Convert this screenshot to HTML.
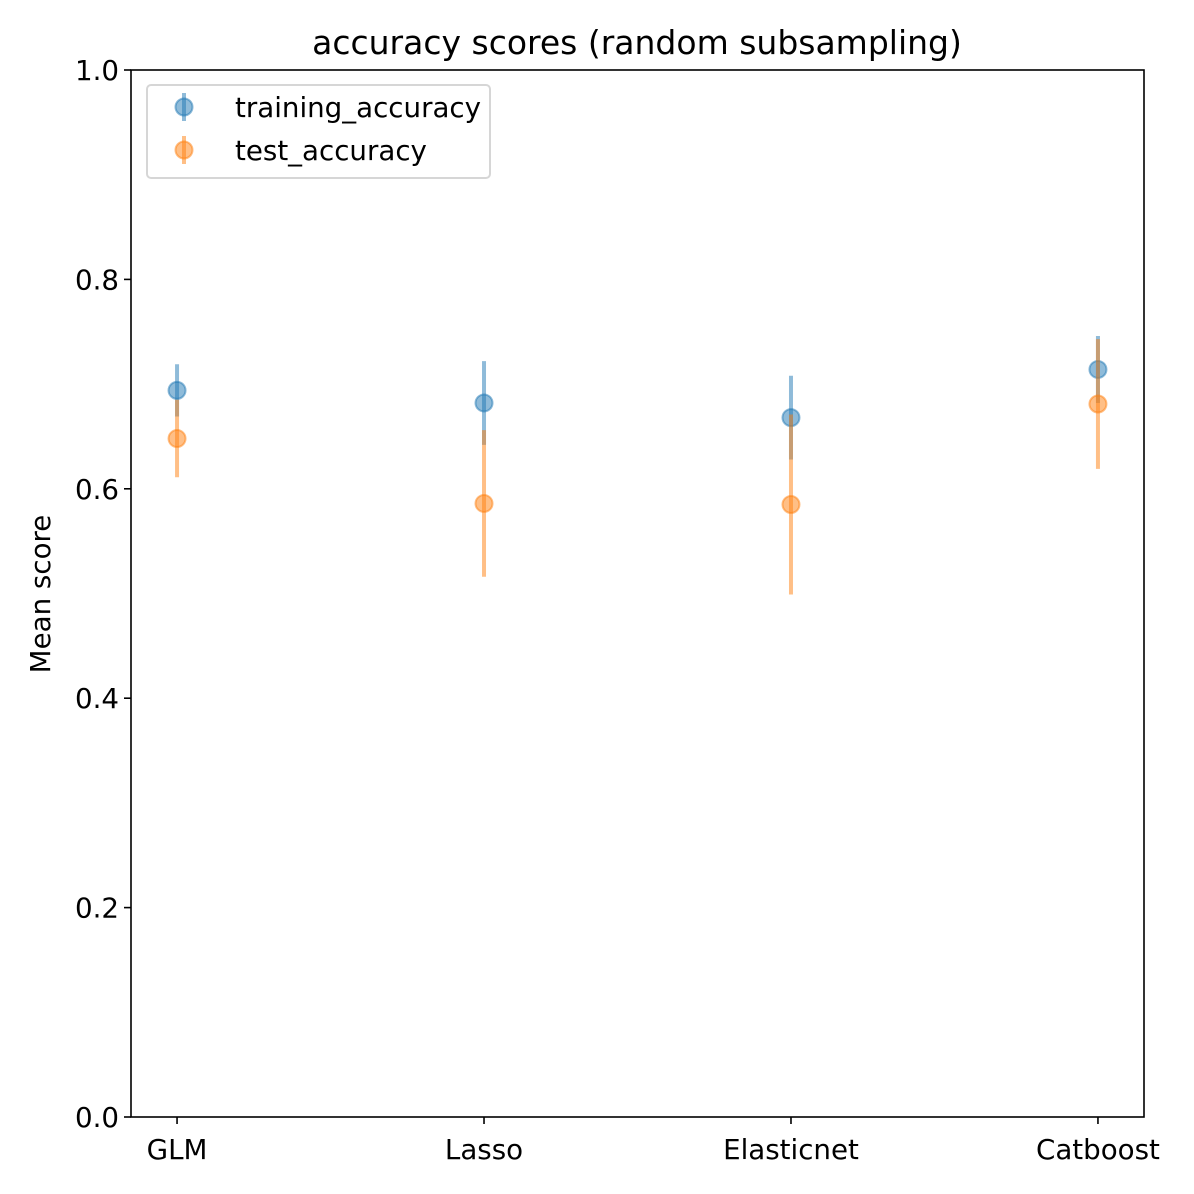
<!DOCTYPE html>
<html><head><meta charset="utf-8"><style>
html,body{margin:0;padding:0;background:#fff;}
svg{display:block;font-family:"DejaVu Sans","Liberation Sans",sans-serif;}
</style></head><body>
<svg id="chart" width="1194" height="1194" viewBox="0 0 1194 1194">
<rect x="0" y="0" width="1194" height="1194" fill="#fff"/>
<text x="637" y="54" font-size="33" text-anchor="middle">accuracy scores (random subsampling)</text>
<text transform="translate(50,594) rotate(-90)" font-size="27.7" text-anchor="middle">Mean score</text>
<g id="marks"></g>
<g id="axes"></g>
<g id="legend">
<rect x="147" y="85" width="343" height="93" rx="4" fill="#fff" fill-opacity="0.8" stroke="#d6d6d6" stroke-width="2"/>
<g>
<line x1="184" y1="93" x2="184" y2="121" stroke="#1f77b4" stroke-opacity="0.5" stroke-width="4"/>
<circle cx="184" cy="107" r="8.5" fill="#1f77b4" fill-opacity="0.5" stroke="#1f77b4" stroke-opacity="0.5" stroke-width="2"/>
<text x="235" y="117" font-size="27.7">training_accuracy</text></g>
<g>
<line x1="184" y1="136" x2="184" y2="164" stroke="#ff7f0e" stroke-opacity="0.5" stroke-width="4"/>
<circle cx="184" cy="150" r="8.5" fill="#ff7f0e" fill-opacity="0.5" stroke="#ff7f0e" stroke-opacity="0.5" stroke-width="2"/>
<text x="235" y="160" font-size="27.7">test_accuracy</text></g>
</g>
</svg>
<script>
const categories = ["GLM","Lasso","Elasticnet","Catboost"];
const trainMean = [0.694,0.682,0.668,0.714];
const trainErr = [0.025,0.040,0.040,0.032];
const testMean = [0.648,0.586,0.585,0.681];
const testErr = [0.037,0.070,0.086,0.062];
const yTicks = [0.0,0.2,0.4,0.6,0.8,1.0];
const yTickLabels = ["0.0","0.2","0.4","0.6","0.8","1.0"];

const L=131,R=1144,T=70,B=1117;
const NS="http://www.w3.org/2000/svg";
function xs(i){return L+(i+0.15)/3.3*(R-L);}
function ys(v){return B-v*(B-T);}
function mk(tag,attrs,parent){const e=document.createElementNS(NS,tag);for(const k in attrs)e.setAttribute(k,attrs[k]);parent.appendChild(e);return e;}
const marks=document.getElementById('marks');
const axes=document.getElementById('axes');
function series(means,errs,color,name){
  means.forEach((m,i)=>{
    const x=xs(i);
    const ln=mk('line',{x1:x,x2:x,y1:ys(m+errs[i]),y2:ys(m-errs[i]),stroke:color,'stroke-opacity':0.5,'stroke-width':4},marks);
    
    
    const c=mk('circle',{cx:x,cy:ys(m),r:8.5,fill:color,'fill-opacity':0.5,stroke:color,'stroke-opacity':0.5,'stroke-width':2},marks);
    
    
  });
}
series(trainMean,trainErr,'#1f77b4','training');
series(testMean,testErr,'#ff7f0e','test');
const frame=mk('rect',{x:L,y:T,width:R-L,height:B-T,fill:'none',stroke:'#000','stroke-width':1.6},axes);


yTicks.forEach((v,i)=>{
  const y=ys(v);
  mk('line',{x1:L-7,x2:L,y1:y,y2:y,stroke:'#000','stroke-width':1.6},axes);
  const t=mk('text',{x:L-12,y:y+10,'font-size':27.7,'text-anchor':'end'},axes);
  t.textContent=yTickLabels[i];
  
  
});
categories.forEach((c,i)=>{
  const x=xs(i);
  mk('line',{x1:x,x2:x,y1:B,y2:B+7,stroke:'#000','stroke-width':1.6},axes);
  const t=mk('text',{x:x,y:B+42,'font-size':27.7,'text-anchor':'middle'},axes);
  t.textContent=c;
  
  
});
</script>
</body></html>
